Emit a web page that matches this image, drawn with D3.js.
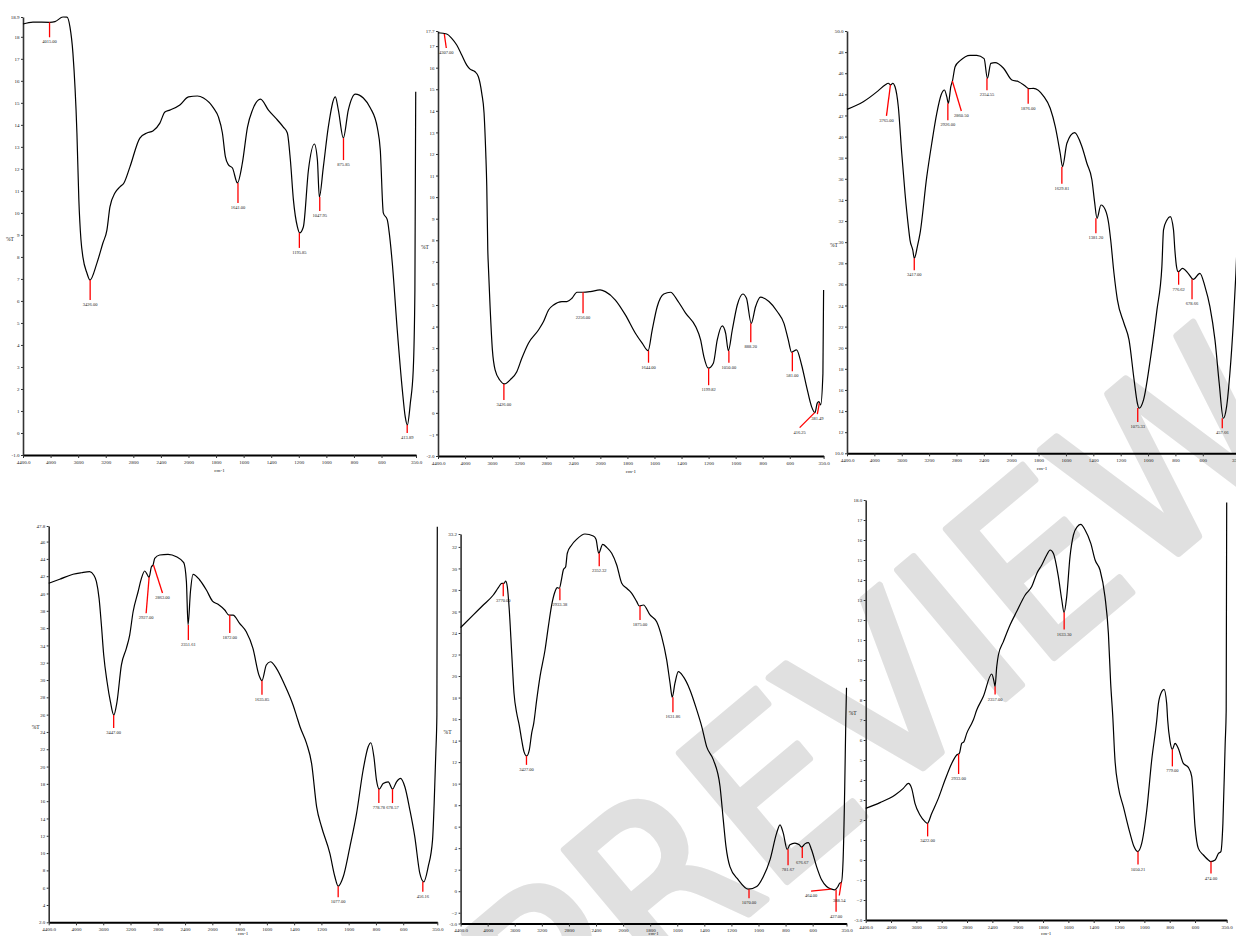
<!DOCTYPE html>
<html>
<head>
<meta charset="utf-8">
<script src="https://cdn.jsdelivr.net/npm/d3@7"></script>
<style>
  body { margin: 0; background: #fff; }
  svg { display: block; }
</style>
</head>
<body>
<svg id="chart" width="1236" height="936"></svg>
<script>
// wavenumber axis: 4400-2000 compressed, 2000-350 expanded
var wavenumberBreaks = [4400, 2000, 350]
var xTickValues = [4400, 4000, 3600, 3200, 2800, 2400, 2000, 1800, 1600, 1400, 1200, 1000, 800, 600, 350]

var yTicks1 = [-1.0, 0, 1, 2, 3, 4, 5, 6, 7, 8, 9, 10, 11, 12, 13, 14, 15, 16, 17, 18, 18.9]
var yTicks2 = [-2.0, -1, 0, 1, 2, 3, 4, 5, 6, 7, 8, 9, 10, 11, 12, 13, 14, 15, 16, 17, 17.7]
var yTicks3 = [10.0, 12, 14, 16, 18, 20, 22, 24, 26, 28, 30, 32, 34, 36, 38, 40, 42, 44, 46, 48, 50.0]
var yTicks4 = [2.0, 4, 6, 8, 10, 12, 14, 16, 18, 20, 22, 24, 26, 28, 30, 32, 34, 36, 38, 40, 42, 44, 46, 47.8]
var yTicks5 = [-3.0, -2, 0, 2, 4, 6, 8, 10, 12, 14, 16, 18, 20, 22, 24, 26, 28, 30, 32, 33.2]
var yTicks6 = [-3.0, -2, -1, 0, 1, 2, 3, 4, 5, 6, 7, 8, 9, 10, 11, 12, 13, 14, 15, 16, 17, 18.0]

// [wavenumber cm-1, %T]
var spectrum1 = [[4400,18.58],[4255,18.67],[4009,18.66],[3936,18.69],[3820,18.9],[3762,18.89],[3719,18.45],[3676,17.26],[3618,13.63],[3590,10.6],[3560,8.8],[3531,7.99],[3473,7.27],[3429,6.95],[3328,7.72],[3241,8.63],[3183,9.22],[3139,10.27],[3067,10.9],[2994,11.18],[2936,11.36],[2850,12.08],[2705,13.4],[2603,13.63],[2516,13.72],[2415,14.08],[2342,14.58],[2270,14.67],[2125,14.9],[2000,15.27],[1935,15.31],[1891,15.22],[1819,14.77],[1783,14.36],[1754,13.63],[1732,12.54],[1710,12.18],[1681,12.04],[1645,11.36],[1609,12.27],[1572,13.9],[1536,14.67],[1478,15.17],[1420,14.67],[1355,14.22],[1312,13.9],[1283,13.63],[1261,12.4],[1239,10.59],[1210,9.36],[1194,9.09],[1167,9.36],[1130,11.95],[1087,13.13],[1065,12.4],[1051,10.72],[1022,12.08],[986,13.9],[935,15.27],[913,14.67],[877,13.4],[841,14.67],[790,15.4],[732,15.22],[681,14.77],[630,13.86],[609,12.86],[587,10.0],[558,9.68],[544,9.09],[522,7.72],[486,4.68],[449,1.95],[428,0.73],[413,0.36],[391,1.36],[370,2.86],[358,6.5],[352,15.5]]
var spectrum2 = [[4400,17.62],[4271,17.56],[4197,17.36],[4123,17.05],[4049,16.59],[3975,16.12],[3926,15.93],[3852,15.81],[3803,15.58],[3753,14.81],[3719,13.89],[3694,12.05],[3679,10.49],[3664,7.55],[3655,6.78],[3630,4.92],[3596,2.92],[3556,1.99],[3482,1.5],[3418,1.34],[3334,1.53],[3235,1.91],[3161,2.53],[3063,3.23],[2915,3.84],[2840,4.23],[2766,4.77],[2692,5.0],[2568,5.16],[2494,5.16],[2420,5.31],[2346,5.59],[2257,5.59],[2148,5.62],[2005,5.7],[1963,5.62],[1889,5.23],[1815,4.54],[1741,3.69],[1691,3.23],[1647,2.88],[1617,3.84],[1580,4.92],[1531,5.51],[1481,5.59],[1432,5.23],[1370,4.62],[1296,4.0],[1259,3.38],[1235,2.61],[1202,2.07],[1165,2.3],[1136,3.38],[1099,4.03],[1074,3.69],[1054,2.88],[1025,3.84],[988,5.0],[947,5.51],[920,5.31],[885,4.15],[853,4.92],[816,5.36],[754,5.16],[693,4.7],[643,4.15],[611,3.38],[587,2.81],[550,2.92],[513,2.23],[476,1.22],[439,0.29],[414,0.01],[397,0.45],[385,0.52],[372,0.37],[355,1.83],[350,5.7]]
var spectrum3 = [[4400,42.58],[4162,43.3],[3942,44.35],[3844,44.89],[3796,45.05],[3761,44.89],[3732,45.05],[3698,44.72],[3650,42.83],[3600,38.42],[3552,34.63],[3503,31.47],[3479,30.2],[3439,29.26],[3416,28.47],[3372,29.57],[3332,30.85],[3234,36.2],[3161,39.37],[3088,42.2],[3025,43.94],[2976,44.41],[2942,43.78],[2918,43.15],[2883,44.73],[2859,45.26],[2820,46.62],[2747,47.19],[2601,47.7],[2503,47.7],[2396,47.38],[2348,45.52],[2298,46.94],[2236,47.0],[2112,46.47],[1995,45.36],[1946,45.2],[1898,44.79],[1871,44.54],[1837,44.57],[1764,43.84],[1715,42.68],[1678,40.94],[1642,38.42],[1625,37.15],[1593,39.37],[1537,40.37],[1483,39.04],[1447,37.47],[1410,35.89],[1391,33.84],[1373,32.26],[1344,33.52],[1312,33.05],[1288,31.79],[1273,30.2],[1249,27.05],[1224,24.53],[1176,22.32],[1139,20.74],[1102,16.95],[1078,14.74],[1066,14.27],[1033,15.06],[984,18.84],[935,23.58],[899,27.68],[887,31.16],[862,32.1],[838,32.42],[814,31.16],[804,29.26],[792,27.68],[780,27.2],[748,27.52],[707,27.05],[670,26.48],[621,27.05],[584,25.79],[548,23.89],[511,20.74],[480,16.63],[450,13.32],[426,14.42],[402,17.58],[377,22.32],[358,27.05],[350,29.5]]
var spectrum4 = [[4400,41.18],[4239,41.64],[4043,42.22],[3920,42.4],[3799,42.52],[3740,42.14],[3700,41.36],[3661,39.44],[3627,36.36],[3593,32.89],[3544,29.8],[3495,27.49],[3446,25.95],[3398,27.49],[3334,31.73],[3261,33.66],[3212,35.2],[3162,37.89],[3089,40.2],[3040,41.75],[2992,42.6],[2952,42.14],[2928,41.87],[2893,43.09],[2869,43.29],[2845,44.07],[2772,44.45],[2650,44.53],[2527,44.25],[2419,43.56],[2380,41.36],[2356,36.36],[2321,40.2],[2283,42.22],[2185,41.56],[2087,40.4],[1999,39.13],[1958,38.75],[1909,38.09],[1878,37.51],[1848,37.51],[1800,36.55],[1751,35.58],[1702,33.66],[1658,30.57],[1636,29.92],[1604,31.73],[1574,32.11],[1530,31.35],[1469,29.42],[1408,27.11],[1384,25.95],[1357,24.6],[1309,22.68],[1272,20.37],[1235,15.35],[1199,13.04],[1138,9.96],[1101,7.26],[1077,6.18],[1040,7.26],[991,10.73],[942,14.59],[894,19.6],[857,22.28],[837,22.75],[815,21.13],[796,18.44],[776,17.4],[747,18.05],[710,18.24],[678,17.4],[649,18.24],[620,18.63],[588,17.66],[551,14.97],[515,11.88],[478,7.65],[449,6.68],[417,8.41],[385,11.5],[373,15.74],[361,21.52],[353,26.0],[350,47.7]]
var spectrum5 = [[4400,24.5],[4212,25.68],[4065,26.6],[3917,27.53],[3843,28.21],[3793,28.62],[3759,28.62],[3734,28.83],[3710,28.3],[3681,26.14],[3645,22.12],[3611,18.4],[3571,16.54],[3533,15.4],[3498,14.06],[3464,12.98],[3424,12.58],[3385,13.14],[3350,14.69],[3320,15.6],[3276,17.78],[3227,19.94],[3153,22.42],[3104,24.59],[3055,26.6],[3006,27.84],[2972,28.21],[2942,28.16],[2907,29.08],[2883,29.86],[2848,30.16],[2824,31.41],[2759,32.18],[2685,32.71],[2563,33.2],[2440,33.01],[2400,32.71],[2360,31.41],[2301,32.24],[2242,31.96],[2168,31.41],[2094,30.32],[2020,28.62],[1973,28.16],[1936,27.69],[1899,26.91],[1880,26.51],[1850,26.6],[1801,25.68],[1752,25.05],[1715,23.66],[1678,21.5],[1653,19.33],[1637,18.03],[1617,19.33],[1592,20.41],[1555,19.94],[1506,18.71],[1456,16.85],[1419,15.3],[1383,13.44],[1333,12.21],[1284,9.73],[1260,6.63],[1240,4.15],[1211,2.29],[1149,1.06],[1075,0.19],[1013,0.44],[964,1.37],[915,2.92],[866,5.4],[841,6.17],[817,5.4],[788,3.88],[768,4.31],[731,4.47],[699,4.31],[681,4.1],[657,4.4],[632,4.52],[608,3.85],[571,2.29],[534,1.06],[497,0.44],[460,0.19],[436,0.13],[413,0.44],[400,0.75],[388,0.81],[375,2.92],[363,9.73],[355,15.92],[350,18.9]]
var spectrum6 = [[4400,2.58],[4174,2.87],[3937,3.25],[3806,3.58],[3727,3.83],[3674,3.58],[3622,2.83],[3543,2.25],[3464,1.92],[3427,1.83],[3358,2.33],[3253,3.08],[3148,4.0],[3042,4.83],[2963,5.25],[2922,5.33],[2884,5.83],[2848,5.92],[2805,6.33],[2726,6.83],[2701,7.0],[2647,7.5],[2543,8.17],[2410,9.3],[2374,8.92],[2358,8.67],[2331,9.67],[2305,10.25],[2226,10.92],[2121,11.75],[2016,12.42],[1941,13.25],[1889,13.67],[1849,14.33],[1810,14.75],[1771,15.25],[1744,15.5],[1718,15.33],[1679,14.17],[1652,13.0],[1634,12.37],[1613,13.17],[1587,15.17],[1560,16.25],[1529,16.67],[1502,16.78],[1468,16.5],[1423,15.83],[1389,15.0],[1350,14.5],[1311,13.17],[1284,11.33],[1266,8.83],[1250,7.25],[1232,5.0],[1206,3.67],[1166,2.67],[1113,1.33],[1082,0.67],[1053,0.42],[1021,0.83],[981,2.5],[942,5.0],[902,7.0],[889,7.83],[863,8.42],[845,8.53],[824,7.83],[816,7.0],[797,5.92],[779,5.53],[758,5.83],[732,5.58],[692,4.83],[653,4.63],[626,4.17],[600,1.67],[574,0.58],[534,0.25],[495,0.0],[476,-0.08],[441,0.0],[415,0.33],[396,0.42],[380,1.83],[362,5.83],[354,7.5],[350,17.87]]

// picked peaks [wavenumber, %T]
var peaks1 = [[4015,18.66],[3426,6.95],[1641,11.36],[1195.85,9.09],[1047.95,10.72],[875.85,13.4],[413.89,0.36]]
var peaks2 = [[4307,17.56],[3426,1.34],[2256,5.59],[1644,2.88],[1199.82,2.07],[1050,2.88],[888.2,4.15],[581,2.81],[416.25,0.01],[381.49,0.45]]
var peaks3 = [[3765,44.89],[3417,28.47],[2926,43.15],[2860.5,45.26],[2354.55,45.52],[1876,44.54],[1629.81,37.15],[1381.2,32.26],[1075.33,14.3],[776.62,27.2],[678.66,26.48],[457.66,13.32]]
var peaks4 = [[3447,25.95],[2927,41.87],[2863,43.29],[2351.61,36.36],[1872,37.51],[1635.85,29.92],[1077,6.18],[778.78,17.4],[678.57,17.4],[456.16,6.68]]
var peaks5 = [[3770,28.62],[3427,12.58],[2933.38,28.16],[2352.32,31.41],[1875,26.51],[1631.86,18.03],[1070,0.19],[781.67,3.9],[676.67,4.1],[464,0.19],[427,0.13],[388.54,0.81]]
var peaks6 = [[3422,1.83],[2933,5.3],[2357,8.67],[1633.3,12.37],[1050.21,0.42],[779,5.53],[474,-0.08]]

// layout: pixel boxes of the plot areas and leader-line offsets of the peak labels
var panelBoxes = [
    {left: 23, right: 416, top: 17, bottom: 455},
    {left: 438, right: 823.6, top: 31, bottom: 456},
    {left: 847, right: 1237, top: 31, bottom: 453.3},
    {left: 48.7, right: 437.3, top: 526, bottom: 922.3},
    {left: 460.6, right: 846.5, top: 534, bottom: 923.5},
    {left: 865.7, right: 1226.7, top: 500, bottom: 920}
]
var leaders = [
    [[0,15],[0,20],[0,20],[0,15],[0,14],[0,22],[0,8]],
    [[2,14],[0,16],[0,21],[0,12],[0,17],[0,12],[0,19],[0,19],[-15,15],[-2,11]],
    [[-4,31],[0,12],[0,17],[9,30],[0,12],[0,15],[0,17],[0,15],[0,14],[0,13],[0,20],[0,10]],
    [[0,13],[-3,36],[9,28],[0,15],[0,18],[0,14],[0,11],[0,14],[0,14],[0,10]],
    [[0,13],[0,9],[0,12],[0,13],[0,14],[0,15],[0,9],[0,16],[0,11],[-20,2],[0,22],[-2,13]],
    [[0,13],[0,20],[0,8],[0,17],[0,13],[0,17],[0,12]]
]

var panels = [
    {spectrum: spectrum1, yTicks: yTicks1, peaks: peaks1},
    {spectrum: spectrum2, yTicks: yTicks2, peaks: peaks2},
    {spectrum: spectrum3, yTicks: yTicks3, peaks: peaks3},
    {spectrum: spectrum4, yTicks: yTicks4, peaks: peaks4},
    {spectrum: spectrum5, yTicks: yTicks5, peaks: peaks5},
    {spectrum: spectrum6, yTicks: yTicks6, peaks: peaks6}
]

var serif = '"Liberation Serif", "DejaVu Serif", serif'
var svg = d3.select('#chart')

// watermark sits under everything
svg.append('text')
    .text('PREVIEW')
    .attr('transform', 'translate(880,700) rotate(-40)')
    .attr('text-anchor', 'middle')
    .attr('dominant-baseline', 'central')
    .attr('font-family', '"DejaVu Sans", sans-serif')
    .attr('font-size', 230)
    .attr('textLength', 980)
    .attr('lengthAdjust', 'spacingAndGlyphs')
    .style('fill', '#e0e0e0')
    .style('stroke', '#e0e0e0')
    .style('stroke-width', 7)
    .style('stroke-linejoin', 'round')

function edgeFormat(ticks) {
    var first = ticks[0], last = ticks[ticks.length - 1]
    return function (v) {
        return (v === first || v === last) ? v.toFixed(1) : d3.format('d')(v)
    }
}

function drawPanel(p, box, lead) {
    var unit = (box.right - box.left) / 14.25
    var x = d3.scaleLinear()
        .domain(wavenumberBreaks)
        .range([box.left, box.left + 6 * unit, box.right])
    var y = d3.scaleLinear()
        .domain([p.yTicks[0], p.yTicks[p.yTicks.length - 1]])
        .range([box.bottom, box.top])

    var g = svg.append('g')

    var xAxis = g.append('g')
        .attr('transform', 'translate(0,' + box.bottom + ')')
        .call(d3.axisBottom(x).tickValues(xTickValues).tickFormat(edgeFormat(xTickValues.slice().reverse()))
            .tickSize(3).tickSizeOuter(0).tickPadding(2))
    xAxis.select('.domain').style('stroke', '#000').style('stroke-width', 2)
    xAxis.selectAll('.tick line').style('stroke', '#333')
    xAxis.selectAll('text').attr('font-family', serif).attr('font-size', 5).style('fill', '#222')

    var yAxis = g.append('g')
        .attr('transform', 'translate(' + box.left + ',0)')
        .call(d3.axisLeft(y).tickValues(p.yTicks).tickFormat(edgeFormat(p.yTicks))
            .tickSize(2).tickSizeOuter(0).tickPadding(1.5))
    yAxis.select('.domain').style('stroke', '#333').style('stroke-width', 1.6)
    yAxis.selectAll('.tick line').style('stroke', '#333')
    yAxis.selectAll('text').attr('font-family', serif).attr('font-size', 5).style('fill', '#222')

    g.append('text')
        .text('%T')
        .attr('x', box.left - 13)
        .attr('y', (box.top + box.bottom) / 2 + 5)
        .attr('text-anchor', 'middle')
        .attr('font-family', serif)
        .attr('font-size', 5.5)
        .style('fill', '#222')

    g.append('text')
        .text('cm-1')
        .attr('x', (box.left + box.right) / 2)
        .attr('y', Math.min(box.bottom + 17, 935))
        .attr('text-anchor', 'middle')
        .attr('font-family', serif)
        .attr('font-size', 5)
        .style('fill', '#222')

    var line = d3.line()
        .x(function (d) { return x(d[0]) })
        .y(function (d) { return y(d[1]) })
        .curve(d3.curveMonotoneX)

    g.append('path')
        .datum(p.spectrum)
        .attr('d', line)
        .style('fill', 'none')
        .style('stroke', '#000')
        .style('stroke-width', 1.2)
        .style('stroke-linejoin', 'round')

    var peak = g.selectAll('.peak')
        .data(p.peaks)
        .enter()
        .append('g')
        .attr('class', 'peak')

    peak.append('line')
        .attr('x1', function (d) { return x(d[0]) })
        .attr('y1', function (d) { return y(d[1]) })
        .attr('x2', function (d, i) { return x(d[0]) + lead[i][0] })
        .attr('y2', function (d, i) { return y(d[1]) + lead[i][1] })
        .style('stroke', '#f00')
        .style('stroke-width', 1.3)

    peak.append('text')
        .text(function (d) { return d[0].toFixed(2) })
        .attr('x', function (d, i) { return x(d[0]) + lead[i][0] })
        .attr('y', function (d, i) { return y(d[1]) + lead[i][1] + 6 })
        .attr('text-anchor', 'middle')
        .attr('font-family', serif)
        .attr('font-size', 4.5)
        .style('fill', '#222')
}

panels.forEach(function (p, i) {
    drawPanel(p, panelBoxes[i], leaders[i])
})
</script>
</body>
</html>
